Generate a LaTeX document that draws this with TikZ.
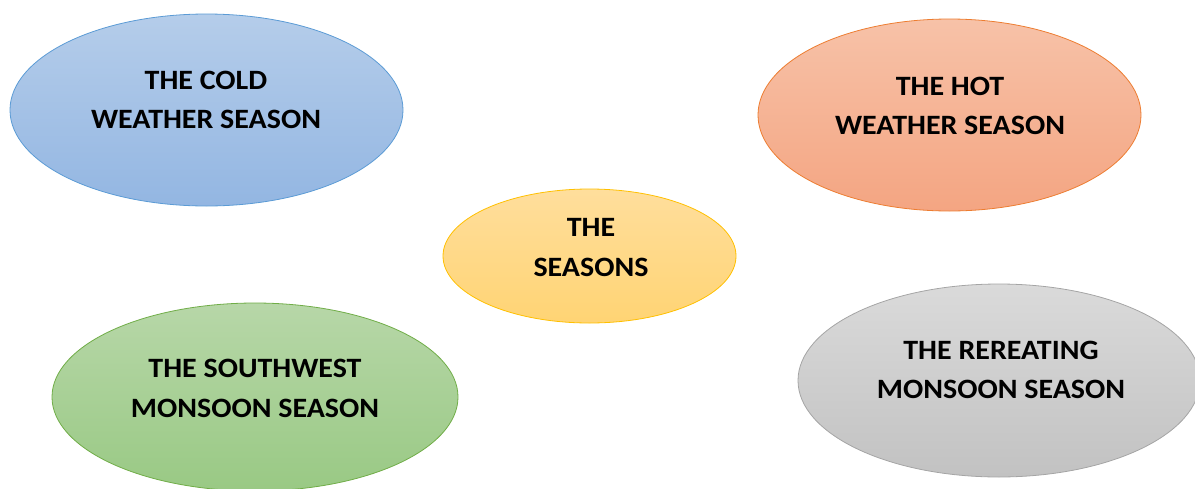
\documentclass[tikz,border=0pt]{standalone}
\usepackage{fontspec}
\setmainfont{Carlito}
\newfontfamily\lblfont[FakeStretch=1.07]{Carlito}
\usetikzlibrary{shapes.geometric}
\definecolor{coldTop}{HTML}{B5CDEA}
\definecolor{coldBot}{HTML}{93B6E2}
\definecolor{coldLine}{HTML}{5B9BD5}
\definecolor{hotTop}{HTML}{F7C2A8}
\definecolor{hotBot}{HTML}{F4A582}
\definecolor{hotLine}{HTML}{ED7D31}
\definecolor{midTop}{HTML}{FFDE9C}
\definecolor{midBot}{HTML}{FFD474}
\definecolor{midLine}{HTML}{FFC000}
\definecolor{swTop}{HTML}{B7D7A8}
\definecolor{swBot}{HTML}{99C984}
\definecolor{swLine}{HTML}{70AD47}
\definecolor{rtTop}{HTML}{DADADA}
\definecolor{rtBot}{HTML}{C2C2C2}
\definecolor{rtLine}{HTML}{A5A5A5}
\tikzset{
  blob/.style={ellipse, inner sep=0pt, line width=0.8pt},
  label/.style={align=center, inner sep=0pt, font=\lblfont\bfseries\fontsize{28}{39.5}\selectfont, text=black}
}
\begin{document}
\begin{tikzpicture}[x=1pt,y=-1pt]
\useasboundingbox (0,0) rectangle (1195,488);
\node[blob, minimum width=393pt, minimum height=192pt, top color=coldTop, bottom color=coldBot, draw=coldLine] (coldE) at (206.5,110) {};
\node[blob, minimum width=383pt, minimum height=192pt, top color=hotTop, bottom color=hotBot, draw=hotLine] (hotE) at (949.5,115) {};
\node[blob, minimum width=293pt, minimum height=134pt, top color=midTop, bottom color=midBot, draw=midLine] (midE) at (589.5,256) {};
\node[blob, minimum width=406pt, minimum height=188pt, top color=swTop, bottom color=swBot, draw=swLine] (swE) at (255,397) {};
\node[blob, minimum width=402pt, minimum height=193pt, top color=rtTop, bottom color=rtBot, draw=rtLine] (rtE) at (999,380.5) {};
\node[label] (coldT) at (206,100) {THE COLD\\WEATHER SEASON};
\node[label] (hotT) at (950,106) {THE HOT\\WEATHER SEASON};
\node[label] (midT) at (591,247.5) {THE\\SEASONS};
\node[label] (swT) at (255,388.5) {THE SOUTHWEST\\MONSOON SEASON};
\node[label] (rtT) at (1001,370) {THE REREATING\\MONSOON SEASON};
\end{tikzpicture}
\end{document}
